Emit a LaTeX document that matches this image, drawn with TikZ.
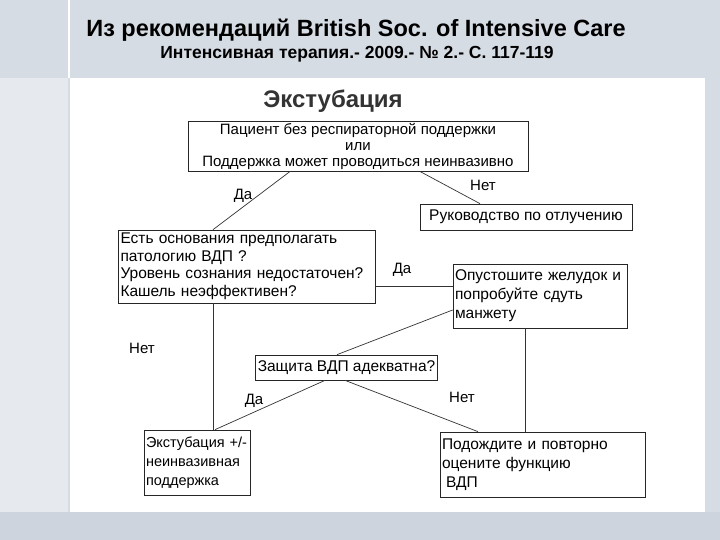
\documentclass[tikz,border=0pt]{standalone}
\usepackage{fontspec}
\setmainfont{Liberation Sans}
\begin{document}
\begin{tikzpicture}[x=1pt,y=-1pt,
  box/.style={draw=black!85,line width=0.7pt,inner sep=2pt,font=\fontsize{15.5}{19}\selectfont},
  lbl/.style={font=\fontsize{15}{18}\selectfont},
  conn/.style={draw=black!80,line width=0.7pt}]
\useasboundingbox (0,0) rectangle (720,540);
\fill[fill={rgb,255:red,214;green,220;blue,228}] (0,0) rectangle (720,540);
\fill[white] (70,78) rectangle (705,512);
\fill[fill={rgb,255:red,230;green,234;blue,239}] (0,78) rectangle (68,540);
\draw[white,line width=1.5pt] (69,0) -- (69,78);
\fill[fill={rgb,255:red,205;green,212;blue,222}] (0,512) rectangle (720,540);
\node[font=\bfseries\fontsize{23.5}{26}\selectfont] (title) at (356,30) {Из рекомендаций British Soc. of Intensive Care};
\node[font=\bfseries\fontsize{17.5}{20}\selectfont] (sub) at (357,54) {Интенсивная терапия.- 2009.- № 2.- С. 117-119};
\node[font=\bfseries\fontsize{24}{26}\selectfont,text=black!80] (head) at (333,101) {Экстубация};
\node[box,align=center,minimum width=340,minimum height=48,font=\fontsize{15}{16}\selectfont] (top) at (358,146) {Пациент без респираторной поддержки\\или\\Поддержка может проводиться неинвазивно};
\node[box,minimum width=212,minimum height=26] (wean) at (526,217) {Руководство по отлучению};
\node[box,align=left,minimum width=257,minimum height=73,text width=252,font=\fontsize{15.5}{17.5}\selectfont] (q1) at (246.5,266.5) {Есть основания предполагать\\патологию ВДП ?\\Уровень сознания недостаточен?\\Кашель неэффективен?};
\node[box,align=left,minimum width=174,minimum height=64,text width=170] (empty) at (540,296) {Опустошите желудок и\\попробуйте сдуть\\манжету};
\node[box,minimum width=181,minimum height=25] (prot) at (346.5,367.5) {Защита ВДП адекватна?};
\node[box,align=left,minimum width=106,minimum height=65,text width=102,font=\fontsize{14.5}{19}\selectfont] (ext) at (197,462.5) {Экстубация +/-\\неинвазивная\\поддержка};
\node[box,align=left,minimum width=205,minimum height=65,text width=201] (wait) at (542.5,464.5) {Подождите и повторно\\оцените функцию\\\hspace*{4pt}ВДП};
\draw[conn] (top.south -| 290,0) -- (q1.north -| 213,0);
\draw[conn] (top.south -| 420,0) -- (wean.north -| 480,0);
\draw[conn] (q1.east |- 0,286) -- (empty.west |- 0,286);
\draw[conn] (q1.south -| 213,0) -- (ext.north -| 213,0);
\draw[conn] (prot.north -| 337,0) -- (empty.west |- 0,310);
\draw[conn] (prot.south -| 325,0) -- (ext.north -| 215,0);
\draw[conn] (prot.south -| 345,0) -- (wait.north -| 478,0);
\draw[conn] (empty.south -| 525,0) -- (wait.north -| 525,0);
\node[lbl] (l1) at (243,196) {Да};
\node[lbl] (l2) at (483,185) {Нет};
\node[lbl] (l3) at (402,270) {Да};
\node[lbl] (l4) at (142,348) {Нет};
\node[lbl] (l5) at (254,401) {Да};
\node[lbl] (l6) at (462,397) {Нет};
\end{tikzpicture}
\end{document}
